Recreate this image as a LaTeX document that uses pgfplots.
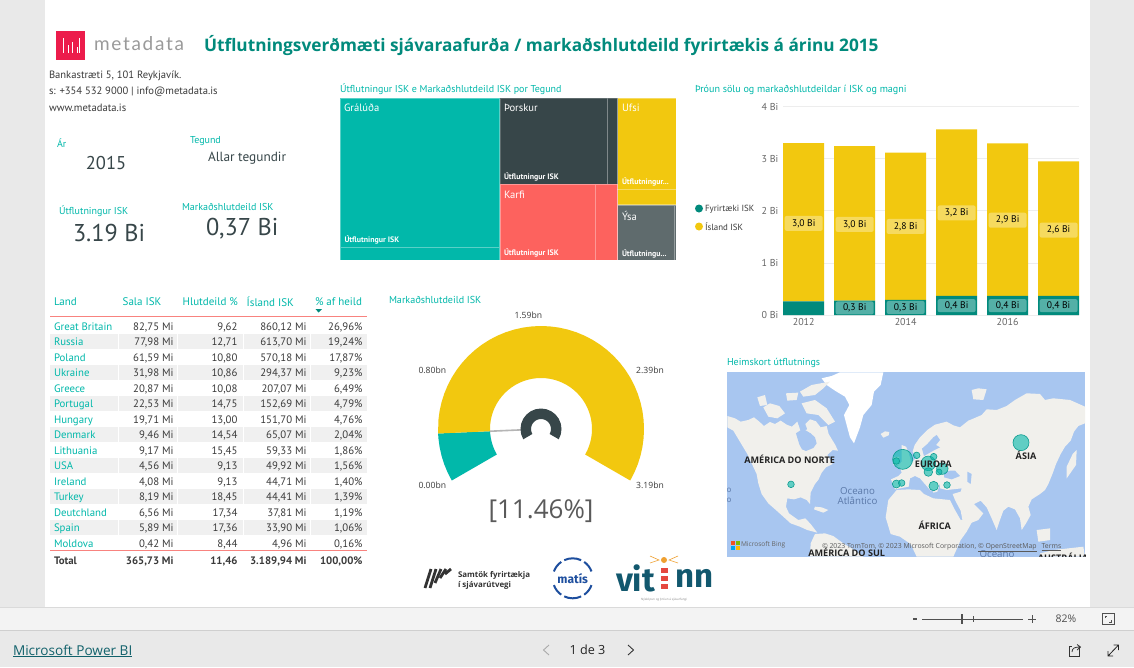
\documentclass[border=0pt]{standalone}
\usepackage{fontspec}
\setmainfont{PT Sans}
\newfontfamily\titlefont{Open Sans}
\newfontfamily\uifont{Open Sans}
\newfontfamily\logofont[LetterSpace=9]{Lato}
\newfontfamily\bigfont{Fira Sans}
\usepackage{pgfplots}
\pgfplotsset{compat=1.18}
\usepgfplotslibrary{polar}
\usetikzlibrary{calc}

\definecolor{bteal}{HTML}{01B8AA}
\definecolor{dteal}{HTML}{018A7C}
\definecolor{byellow}{HTML}{F2C80F}
\definecolor{bdark}{HTML}{374649}
\definecolor{bred}{HTML}{FD625E}
\definecolor{bgray}{HTML}{5F6B6D}
\definecolor{txt}{HTML}{3A3A3A}
\definecolor{pagebg}{HTML}{E9E9E9}
\definecolor{mapblue}{HTML}{A8C6F0}
\definecolor{land}{HTML}{F1F0EC}
\definecolor{stripe}{HTML}{F0F0F0}
\definecolor{barbg}{HTML}{F3F3F3}
\definecolor{ruleA}{HTML}{DADADA}
\definecolor{ruleB}{HTML}{CFCFCF}
\definecolor{mdred}{HTML}{EC1C4B}
\definecolor{mdgray}{HTML}{9A9A9A}
\definecolor{gridc}{HTML}{EDEDED}
\definecolor{tickc}{HTML}{666666}
\definecolor{tabred}{HTML}{F8837F}
\definecolor{needle}{HTML}{B5B5B5}
\definecolor{g55}{HTML}{5A5A5A}
\definecolor{bubble}{HTML}{0F9C90}
\definecolor{g22}{HTML}{222222}
\definecolor{oceanc}{HTML}{5A78A8}
\definecolor{g33}{HTML}{333333}
\definecolor{matisb}{HTML}{1D4E9E}
\definecolor{vitc}{HTML}{12586E}
\definecolor{vitred}{HTML}{E5483F}
\definecolor{vitsun}{HTML}{EFA030}
\definecolor{g88}{HTML}{888888}
\definecolor{g50}{HTML}{505050}
\definecolor{linkc}{HTML}{11616B}
\definecolor{gAA}{HTML}{AAAAAA}
\definecolor{msr}{HTML}{F25022}
\definecolor{msg}{HTML}{7FBA00}
\definecolor{msb}{HTML}{00A4EF}
\definecolor{msy}{HTML}{FFB900}

\newcommand{\fs}[1]{\fontsize{#1}{#1}\selectfont}
\newcommand{\dd}{.\kern0pt.\kern0pt.}
\newcommand{\row}[7]{%
  \node[anchor=base west,text=bteal] at (54,-#1) {#2};
  \node[anchor=base east,text=txt] at (173.5,-#1) {#3};
  \node[anchor=base east,text=txt] at (237.5,-#1) {#4};
  \node[anchor=base east,text=txt] at (306.5,-#1) {#5};
  \node[anchor=base east,text=txt] at (362.5,-#1) {#6};
}

\begin{document}
\begin{tikzpicture}[x=1pt,y=1pt,every node/.style={inner sep=0pt,outer sep=0pt},
  ylab/.style={anchor=center,fill=white,fill opacity=.33,text opacity=1,rounded corners=2pt,minimum width=38pt,minimum height=15pt,text=black,font=\fs{9.6}},
  tlab/.style={ylab,minimum height=13pt}]
\useasboundingbox (0,0) rectangle (1134,-667);

% page
\fill[pagebg] (0,0) rectangle (1134,-667);
\fill[white] (45,0) rectangle (1090,-607);
\fill[barbg] (0,-607) rectangle (1134,-630);
\draw[ruleA] (0,-607.5) -- (1134,-607.5);
\draw[ruleB] (0,-630.5) -- (1134,-630.5);

% header
\fill[mdred] (56,-31) rectangle (85,-60);
\foreach \xa/\ya/\yb in {63/38/53,68.5/45/53,72/42/53,77/47/53,79/38/53}
  \draw[white,line width=.7] (\xa,-\ya) -- (\xa,-\yb);
\node[anchor=west,text=mdgray] at (94,-44) {\logofont\fs{19}metadata};
\node[anchor=west,text=dteal] at (204,-45.5) {\titlefont\bfseries\fs{17.25}Útflutningsverðmæti sjávaraafurða / markaðshlutdeild fyrirtækis á árinu 2015};

\node[anchor=west,text=txt] at (49,-76) {\fs{10.6}Bankastræti 5, 101 Reykjavík.};
\node[anchor=west,text=txt] at (49,-92) {\fs{10.6}s: +354 532 9000 | info@metadata.is};
\node[anchor=west,text=txt] at (49,-107.5) {\fs{10.6}www.metadata.is};

\node[anchor=west,text=bteal] at (57,-143.5) {\fs{10}Ár};
\node[anchor=center,text=bdark] at (106,-163) {\fs{18.5}2015};
\node[anchor=west,text=bteal] at (190,-141.5) {\fs{10}Tegund};
\node[anchor=west,text=bdark] at (208,-158) {\fs{13.3}Allar tegundir};
\node[anchor=west,text=bteal] at (59,-211) {\fs{10}Útflutningur ISK};
\node[anchor=west,text=bdark] at (73,-232.5) {\fs{24.3}3.19 Bi};
\node[anchor=west,text=bteal] at (182,-207) {\fs{10}Markaðshlutdeild ISK};
\node[anchor=west,text=bdark] at (206,-229) {\fs{24.3}0,37 Bi};

% treemap
\node[anchor=west,text=bteal] at (340,-89) {\fs{10}Útflutningur ISK e Markaðshlutdeild ISK por Tegund};
\begin{axis}[at={(340pt,-260pt)},anchor=south west,scale only axis,width=336pt,height=162pt,
  hide axis,xmin=340,xmax=676,ymin=-260,ymax=-98]
\addplot[fill=bteal,draw=white,draw opacity=.35,line width=.6] coordinates {(340,-98.3) (499.7,-98.3) (499.7,-247.3) (340,-247.3)} --cycle;
\addplot[fill=bteal,draw=white,draw opacity=.35,line width=.6] coordinates {(340,-247.3) (499.7,-247.3) (499.7,-260) (340,-260)} --cycle;
\addplot[fill=bdark,draw=white,draw opacity=.2,line width=.6] coordinates {(500,-98.3) (607.7,-98.3) (607.7,-184) (500,-184)} --cycle;
\addplot[fill=bdark,draw=white,draw opacity=.2,line width=.6] coordinates {(607.7,-98.3) (617.7,-98.3) (617.7,-184) (607.7,-184)} --cycle;
\addplot[fill=bred,draw=white,draw opacity=.35,line width=.6] coordinates {(500,-184.3) (595.3,-184.3) (595.3,-260) (500,-260)} --cycle;
\addplot[fill=bred,draw=white,draw opacity=.35,line width=.6] coordinates {(595.3,-184.3) (617.7,-184.3) (617.7,-260) (595.3,-260)} --cycle;
\addplot[fill=byellow,draw=white,draw opacity=.35,line width=.6] coordinates {(617.7,-98.3) (676,-98.3) (676,-189) (617.7,-189)} --cycle;
\addplot[fill=byellow,draw=white,draw opacity=.35,line width=.6] coordinates {(617.7,-189) (676,-189) (676,-204.7) (617.7,-204.7)} --cycle;
\addplot[fill=bgray,draw=white,draw opacity=.35,line width=.6] coordinates {(617.7,-205) (674.3,-205) (674.3,-260) (617.7,-260)} --cycle;
\addplot[fill=bgray,draw=white,draw opacity=.35,line width=.6] coordinates {(674.3,-205) (676,-205) (676,-260) (674.3,-260)} --cycle;
\end{axis}
\foreach \xa/\ya/\t in {344/108/Grálúða,504/108/Þorskur,504/195/Karfi,622/108/Ufsi,622/215.5/Ýsa}
  \node[anchor=west,text=white] at (\xa,-\ya) {\fs{10.6}\t};
\foreach \xa/\ya/\t in {344.5/240/Útflutningur ISK,504/177/Útflutningur ISK,504/253/Útflutningur ISK,622/182/Útflutningur\dd,622/253.5/Útflutningu\dd}
  \node[anchor=west,text=white] at (\xa,-\ya) {\bfseries\fs{7.9}\t};

% stacked bars
\node[anchor=west,text=bteal] at (695,-89.5) {\fs{10.1}Þróun sölu og markaðshlutdeildar í ISK og magni};
\fill[dteal] (699,-208.5) circle (4);
\fill[byellow] (699,-226.5) circle (4);
\node[anchor=west,text=txt] at (705,-209) {\fs{8.9}Fyrirtæki ISK};
\node[anchor=west,text=txt] at (705,-227) {\fs{8.9}Ísland ISK};
\begin{axis}[at={(783.3pt,-315pt)},anchor=south west,scale only axis,width=295.7pt,height=208.3pt,
  ybar stacked,bar width=41pt,xmin=2011.6,xmax=2017.4,ymin=0,ymax=4,
  axis line style={draw=none},tick style={draw=none},
  ymajorgrids,grid style={gridc,line width=.8pt},
  xtick={2012,2014,2016},xticklabels={2012,2014,2016},
  ytick={0,1,2,3,4},yticklabels={0 Bi,1 Bi,2 Bi,3 Bi,4 Bi},
  tick label style={font=\fs{10},text=tickc},
  xticklabel style={yshift=-3pt},
  yticklabel style={xshift=-5pt},
  clip=false]
\addplot[fill=dteal,draw=none] coordinates {(2012,0.26) (2013,0.275) (2014,0.29) (2015,0.365) (2016,0.365) (2017,0.365)};
\addplot[fill=byellow,draw=none] coordinates {(2012,3.04) (2013,2.97) (2014,2.83) (2015,3.20) (2016,2.93) (2017,2.585)};
\end{axis}
% data labels sit in their own axis: stacked bars are drawn last inside an axis
\begin{axis}[at={(783.3pt,-315pt)},anchor=south west,scale only axis,width=295.7pt,height=208.3pt,
  hide axis,xmin=2011.6,xmax=2017.4,ymin=0,ymax=4,clip=false]
\addplot[only marks,mark=none,point meta=explicit symbolic,nodes near coords,
  nodes near coords style={ylab}] coordinates {
  (2012,1.76) [3,0 Bi] (2013,1.74) [3,0 Bi] (2014,1.70) [2,8 Bi]
  (2015,1.96) [3,2 Bi] (2016,1.82) [2,9 Bi] (2017,1.63) [2,6 Bi]};
\addplot[only marks,mark=none,point meta=explicit symbolic,nodes near coords,
  nodes near coords style={tlab}] coordinates {
  (2013,0.135) [0,3 Bi] (2014,0.145) [0,3 Bi] (2015,0.18) [0,4 Bi]
  (2016,0.18) [0,4 Bi] (2017,0.18) [0,4 Bi]};
\end{axis}

% table
\node[anchor=west,text=bteal] at (54,-302) {\fs{11}Land};
\node[anchor=west,text=bteal] at (122.7,-302) {\fs{11}Sala ISK};
\node[anchor=west,text=bteal] at (182.7,-302) {\fs{11}Hlutdeild \%};
\node[anchor=west,text=bteal] at (246.7,-302) {\fs{11}Ísland ISK};
\node[anchor=west,text=bteal] at (315,-302) {\fs{11}\% af heild};
\fill[dteal] (315.5,-309.2) -- (322,-309.2) -- (318.7,-312.5) -- cycle;
\foreach \ya in {333.5,364.5,395.5,426.5,457.5,488.5,519.5}
  \fill[stripe] (50,-\ya) rectangle (367,-\ya-15);
\foreach \xa in {118,177,243,310}
  \draw[white,line width=.6] (\xa,-318) -- (\xa,-550);
\draw[tabred,line width=1.1] (50,-316.8) -- (367,-316.8);
\draw[tabred,line width=1.1] (50,-550.8) -- (367,-550.8);
\begin{scope}[every node/.append style={font=\fs{10.8}}]
\row{330}{Great Britain}{82,75 Mi}{9,62}{860,12 Mi}{26,96\%}{}
\row{345}{Russia}{77,98 Mi}{12,71}{613,70 Mi}{19,24\%}{}
\row{361}{Poland}{61,59 Mi}{10,80}{570,18 Mi}{17,87\%}{}
\row{376.3}{Ukraine}{31,98 Mi}{10,86}{294,37 Mi}{9,23\%}{}
\row{392}{Greece}{20,87 Mi}{10,08}{207,07 Mi}{6,49\%}{}
\row{407}{Portugal}{22,53 Mi}{14,75}{152,69 Mi}{4,79\%}{}
\row{423}{Hungary}{19,71 Mi}{13,00}{151,70 Mi}{4,76\%}{}
\row{438}{Denmark}{9,46 Mi}{14,54}{65,07 Mi}{2,04\%}{}
\row{454}{Lithuania}{9,17 Mi}{15,45}{59,33 Mi}{1,86\%}{}
\row{469}{USA}{4,56 Mi}{9,13}{49,92 Mi}{1,56\%}{}
\row{485}{Ireland}{4,08 Mi}{9,13}{44,71 Mi}{1,40\%}{}
\row{500}{Turkey}{8,19 Mi}{18,45}{44,41 Mi}{1,39\%}{}
\row{516}{Deutchland}{6,56 Mi}{17,34}{37,81 Mi}{1,19\%}{}
\row{531}{Spain}{5,89 Mi}{17,36}{33,90 Mi}{1,06\%}{}
\row{547}{Moldova}{0,42 Mi}{8,44}{4,96 Mi}{0,16\%}{}
\end{scope}
\begin{scope}[every node/.append style={font=\bfseries\fs{10.8},text=txt}]
\node[anchor=base west] at (54,-564) {Total};
\node[anchor=base east] at (173.5,-564) {365,73 Mi};
\node[anchor=base east] at (237.5,-564) {11,46};
\node[anchor=base east] at (306.5,-564) {3.189,94 Mi};
\node[anchor=base east] at (362.5,-564) {100,00\%};
\end{scope}

% gauge
\node[anchor=west,text=bteal] at (389,-299.5) {\fs{10.1}Markaðshlutdeild ISK};
\begin{polaraxis}[at={(541pt,-429pt)},anchor=center,scale only axis,width=220pt,height=220pt,
  hide axis,xmin=0,xmax=360,ymin=0,ymax=110,clip=false]
\addplot[fill=bteal,draw=none] coordinates {(210,103) (205,103) (200,103) (195,103) (190,103) (185,103) (182.5,103)
  (182.5,51) (185,51) (190,51) (195,51) (200,51) (205,51) (210,51)} --cycle;
\addplot[fill=byellow,draw=none] coordinates {(182.5,103) (175,103) (170,103) (165,103) (160,103) (155,103) (150,103) (145,103) (140,103) (135,103) (130,103) (125,103) (120,103) (115,103) (110,103) (105,103) (100,103) (95,103) (90,103) (85,103) (80,103) (75,103) (70,103) (65,103) (60,103) (55,103) (50,103) (45,103) (40,103) (35,103) (30,103) (25,103) (20,103) (15,103) (10,103) (5,103) (0,103) (-5,103) (-10,103) (-15,103) (-20,103) (-25,103) (-30,103)
  (-30,51) (-25,51) (-20,51) (-15,51) (-10,51) (-5,51) (0,51) (5,51) (10,51) (15,51) (20,51) (25,51) (30,51) (35,51) (40,51) (45,51) (50,51) (55,51) (60,51) (65,51) (70,51) (75,51) (80,51) (85,51) (90,51) (95,51) (100,51) (105,51) (110,51) (115,51) (120,51) (125,51) (130,51) (135,51) (140,51) (145,51) (150,51) (155,51) (160,51) (165,51) (170,51) (175,51) (182.5,51)} --cycle;
\addplot[draw=needle,line width=1.6] coordinates {(182.5,51) (182.5,19)};
\addplot[fill=bdark,draw=none] coordinates {(210,20.5) (195,20.5) (180,20.5) (165,20.5) (150,20.5) (135,20.5) (120,20.5) (105,20.5) (90,20.5) (75,20.5) (60,20.5) (45,20.5) (30,20.5) (15,20.5) (0,20.5) (-15,20.5) (-30,20.5)
  (-30,10) (-15,10) (0,10) (15,10) (30,10) (45,10) (60,10) (75,10) (90,10) (105,10) (120,10) (135,10) (150,10) (165,10) (180,10) (195,10) (210,10)} --cycle;
\end{polaraxis}
\foreach \xa/\ya/\t in {528.3/315.7/1.59bn,432.3/370.7/0.80bn,650/370.7/2.39bn,432.3/485.7/0.00bn,650/485.7/3.19bn}
  \node[text=txt] at (\xa,-\ya) {\uifont\fs{8.6}\t};
\node[text=g55] at (541,-511.5) {\uifont\fs{26}[11.46\%]};

% map
\node[anchor=west,text=bteal] at (727,-362.5) {\fs{10}Heimskort útflutnings};
\fill[mapblue] (727.3,-372.3) rectangle (1085,-556.7);
\begin{axis}[at={(727.3pt,-556.7pt)},anchor=south west,scale only axis,width=357.7pt,height=184.4pt,
  hide axis,xmin=22,xmax=1095,ymin=-620,ymax=-67]
% Greenland, Iceland
\addplot[fill=white,draw=none] coordinates {(305,-85) (335,-78) (360,-67) (490,-67) (482,-105) (462,-125) (455,-165) (430,-195) (420,-232) (402,-280) (390,-262) (380,-225) (372,-195) (388,-165) (375,-140) (345,-122) (320,-105)} --cycle;
\addplot[fill=land,draw=none] coordinates {(482,-252) (495,-244) (508,-246) (506,-256) (490,-263)} --cycle;
% North America
\addplot[fill=land,draw=none] coordinates {(22,-198) (45,-205) (62,-215) (85,-210) (102,-202) (118,-215) (132,-228) (150,-216) (165,-222) (182,-212) (200,-224) (216,-230) (232,-215) (238,-232) (242,-246) (262,-238) (256,-222) (270,-208) (288,-214) (302,-232) (320,-228) (326,-252) (346,-285) (354,-302) (338,-300) (322,-315) (338,-342) (318,-352) (305,-368) (296,-388) (285,-402) (272,-428) (270,-462) (260,-450) (242,-442) (222,-448) (202,-445) (198,-470) (207,-490) (235,-510) (256,-505) (272,-522) (292,-548) (262,-540) (240,-530) (212,-520) (190,-500) (170,-482) (145,-460) (125,-432) (115,-400) (110,-372) (95,-340) (82,-312) (58,-272) (40,-242) (22,-232)} --cycle;
\addplot[fill=mapblue,draw=none] coordinates {(228,-250) (240,-242) (255,-240) (272,-250) (285,-262) (290,-280) (280,-294) (258,-303) (246,-298) (238,-283)} --cycle;
\addplot[fill=land,draw=none] coordinates {(130,-172) (150,-160) (178,-168) (195,-190) (172,-205) (145,-200)} --cycle;
\addplot[fill=land,draw=none] coordinates {(112,-142) (135,-135) (142,-165) (120,-168)} --cycle;
\addplot[fill=land,draw=none] coordinates {(198,-130) (235,-128) (230,-150) (202,-152)} --cycle;
\addplot[fill=land,draw=none] coordinates {(240,-125) (275,-105) (330,-95) (310,-115) (285,-135) (250,-140)} --cycle;
\addplot[fill=land,draw=none] coordinates {(245,-160) (285,-150) (320,-175) (345,-215) (325,-225) (295,-195) (260,-190)} --cycle;
\addplot[fill=land,draw=none] coordinates {(285,-470) (305,-472) (325,-480) (310,-488) (282,-478)} --cycle;
% South America
\addplot[fill=land,draw=none] coordinates {(285,-552) (315,-550) (340,-558) (370,-580) (400,-598) (430,-620) (270,-620) (272,-580)} --cycle;
% Eurasia
\addplot[fill=land,draw=none] coordinates {(513,-388) (535,-378) (545,-368) (540,-352) (572,-340) (590,-322) (578,-305) (584,-285) (600,-262) (622,-240) (645,-224) (680,-215) (700,-226) (720,-232) (745,-212) (762,-205) (785,-195) (800,-178) (830,-180) (860,-168) (885,-150) (920,-130) (960,-132) (975,-150) (1000,-145) (1050,-150) (1095,-170) (1095,-220) (1075,-228) (1062,-245) (1052,-272) (1035,-290) (1022,-312) (1008,-342) (998,-370) (985,-402) (975,-420) (960,-432) (935,-448) (925,-470) (932,-495) (918,-520) (905,-540) (900,-505) (885,-478) (865,-470) (850,-482) (838,-515) (830,-540) (815,-505) (800,-472) (782,-452) (762,-462) (790,-490) (775,-510) (750,-520) (730,-525) (722,-482) (705,-450) (698,-432) (722,-425) (725,-415) (680,-420) (660,-415) (660,-400) (652,-425) (640,-428) (632,-402) (622,-388) (640,-415) (632,-422) (600,-385) (585,-378) (570,-385) (566,-410) (525,-418)} --cycle;
\addplot[fill=mapblue,draw=none] coordinates {(622,-282) (640,-262) (650,-255) (660,-270) (648,-285) (660,-292) (640,-302) (612,-318) (606,-296)} --cycle;
\addplot[fill=mapblue,draw=none] coordinates {(672,-368) (690,-362) (705,-362) (720,-378) (695,-388) (672,-382)} --cycle;
\addplot[fill=mapblue,draw=none] coordinates {(742,-365) (755,-372) (752,-402) (742,-395)} --cycle;
% Isles
\addplot[fill=land,draw=none] coordinates {(545,-285) (558,-290) (565,-305) (572,-330) (572,-348) (530,-352) (545,-335) (545,-322)} --cycle;
\addplot[fill=land,draw=none] coordinates {(520,-322) (538,-320) (536,-345) (520,-345)} --cycle;
\addplot[fill=land,draw=none] coordinates {(755,-120) (775,-115) (800,-118) (790,-150) (760,-148)} --cycle;
\addplot[fill=land,draw=none] coordinates {(1040,-350) (1058,-312) (1070,-300) (1068,-345) (1040,-385)} --cycle;
\addplot[fill=land,draw=none] coordinates {(950,-540) (990,-535) (990,-570) (955,-575)} --cycle;
\addplot[fill=land,draw=none] coordinates {(960,-610) (1000,-600) (1090,-590) (1095,-620) (960,-620)} --cycle;
% Africa
\addplot[fill=land,draw=none] coordinates {(505,-450) (530,-420) (565,-418) (600,-420) (612,-432) (640,-445) (690,-450) (705,-480) (722,-510) (762,-505) (740,-545) (722,-570) (700,-620) (590,-620) (572,-582) (540,-560) (512,-552) (497,-502)} --cycle;
% bubbles
\addplot[scatter,only marks,mark=*,
  scatter/use mapped color={draw=bubble,fill=bteal},
  mark options={fill opacity=.6,draw opacity=1,line width=.6},
  visualization depends on={\thisrow{r} \as \rad},
  scatter/@pre marker code/.append style={/tikz/mark size=\rad}]
  table {
x y r
548 -328 10
529 -333 3.3
590 -316 3.3
625 -340 7.3
641 -320 3.3
667 -356 5.7
625 -366 4.3
657 -366 3
529 -402 4
545 -399 3.3
641 -408 4.7
681 -405 3.3
213 -403 3.3
903 -278 8
};
\end{axis}
\begin{scope}
\clip (727.3,-372.3) rectangle (1085,-556.7);
\foreach \xa/\ya/\t in {789.7/459/AMÉRICA DO NORTE,1026/455.7/ÁSIA,933.3/464/EUROPA,934.7/525.7/ÁFRICA,846.7/552/AMÉRICA DO SUL,1063/557.5/AUSTRÁLIA}
  \node[text=g22] at (\xa,-\ya) {\uifont\bfseries\fs{9.1}\t};
\node[text=oceanc] at (857.5,-491) {\uifont\fs{9.7}Oceano};
\node[text=oceanc] at (857.5,-501) {\uifont\fs{9.7}Atlântico};
\node[text=oceanc] at (997,-554.5) {\uifont\fs{9.7}Oceano};
\node[text=oceanc] at (729,-490) {\uifont\fs{8}o};
\node[text=oceanc] at (729,-500) {\uifont\fs{8}o};
\end{scope}
\fill[msr] (731,-541) rectangle (735,-545);
\fill[msg] (735.5,-541) rectangle (739.5,-545);
\fill[msb] (731,-545.5) rectangle (735,-549.5);
\fill[msy] (735.5,-545.5) rectangle (739.5,-549.5);
\node[anchor=west,text=tickc] at (741,-545) {\uifont\fs{6.6}Microsoft Bing};
\node[anchor=west,text=g55] at (822,-547.5) {\uifont\fs{6.9}© 2023 TomTom, © 2023 Microsoft Corporation, \underline{© OpenStreetMap}\hspace{5pt}\underline{Terms}};

% logos
\foreach \xa/\ya/\yb in {431/569/588,436/569/588,441/569/583,446/569/578,451/569/574}
  \draw[g33,line width=2.8] (\xa,-\ya) -- (\xa-6,-\yb);
\node[anchor=west,text=g33] at (458,-575) {\uifont\bfseries\fs{7.9}Samtök fyrirtækja};
\node[anchor=west,text=g33] at (458,-585) {\uifont\bfseries\fs{7.9}í sjávarútvegi};
\foreach \a/\b in {65/115,245/295,125/160,200/235,305/340,20/55}
  \draw[matisb,line width=2] ($(572.7,-578.3)+(\a:20)$) arc (\a:\b:20);
\node[text=matisb] at (572.7,-578.5) {\bigfont\bfseries\fs{12}matís};
\node[anchor=west,text=vitc] at (616,-578) {\bigfont\bfseries\fs{33}vit};
\node[anchor=west,text=vitc] at (675,-578) {\bigfont\bfseries\fs{33}nn};
\foreach \ya in {568,576,584}
  \fill[vitred] (660.5,-\ya) rectangle (667.5,-\ya-5);
\fill[vitsun] (664,-560) circle (3);
\draw[vitsun,line width=.6] (650,-556) -- (659,-560) -- (650,-563) (678,-556) -- (669,-560) -- (678,-563);
\node[text=g88] at (664,-600) {\uifont\fs{3}Nýsköpun og þróun á sjávarfangi};

% footer
\draw[g50,line width=1.2] (913,-619) -- (917,-619);
\draw[g50,line width=.8] (922,-619) -- (1023,-619);
\fill[g50] (960.5,-614) rectangle (963,-624);
\draw[g50,line width=.6] (973,-616) -- (973,-622);
\draw[g50,line width=.7] (1028,-619) -- (1036,-619) (1032,-615) -- (1032,-623);
\node[text=g50] at (1066,-619) {\uifont\fs{10.5}82\%};
\draw[g50,line width=.7] (1102,-613.5) rectangle (1114,-624.5);
\draw[g50,line width=.6] (1105,-618) -- (1105,-616) -- (1107,-616) (1111,-620) -- (1111,-622) -- (1109,-622);
\node[anchor=west,text=linkc] at (13,-651) {\uifont\fs{13.6}\underline{Microsoft Power BI}};
\node[text=g22] at (587.5,-650) {\uifont\fs{12.6}1 de 3};
\draw[gAA,line width=.9] (549,-645) -- (543.5,-650) -- (549,-655);
\draw[g33,line width=.9] (628,-645) -- (633.5,-650) -- (628,-655);
\draw[g33,line width=.8] (1079,-648) -- (1079,-656) -- (1069,-656) -- (1069,-646) -- (1072,-646);
\draw[g33,line width=.8] (1072,-652) .. controls (1072,-648) and (1075,-647) .. (1080,-647) (1077,-644.5) -- (1080.5,-647) -- (1077,-650);
\draw[g22,line width=.8] (1108,-656) -- (1118.5,-645) (1113.5,-645) -- (1118.5,-645) -- (1118.5,-650) (1108,-651) -- (1108,-656) -- (1113,-656);
\end{tikzpicture}
\end{document}
